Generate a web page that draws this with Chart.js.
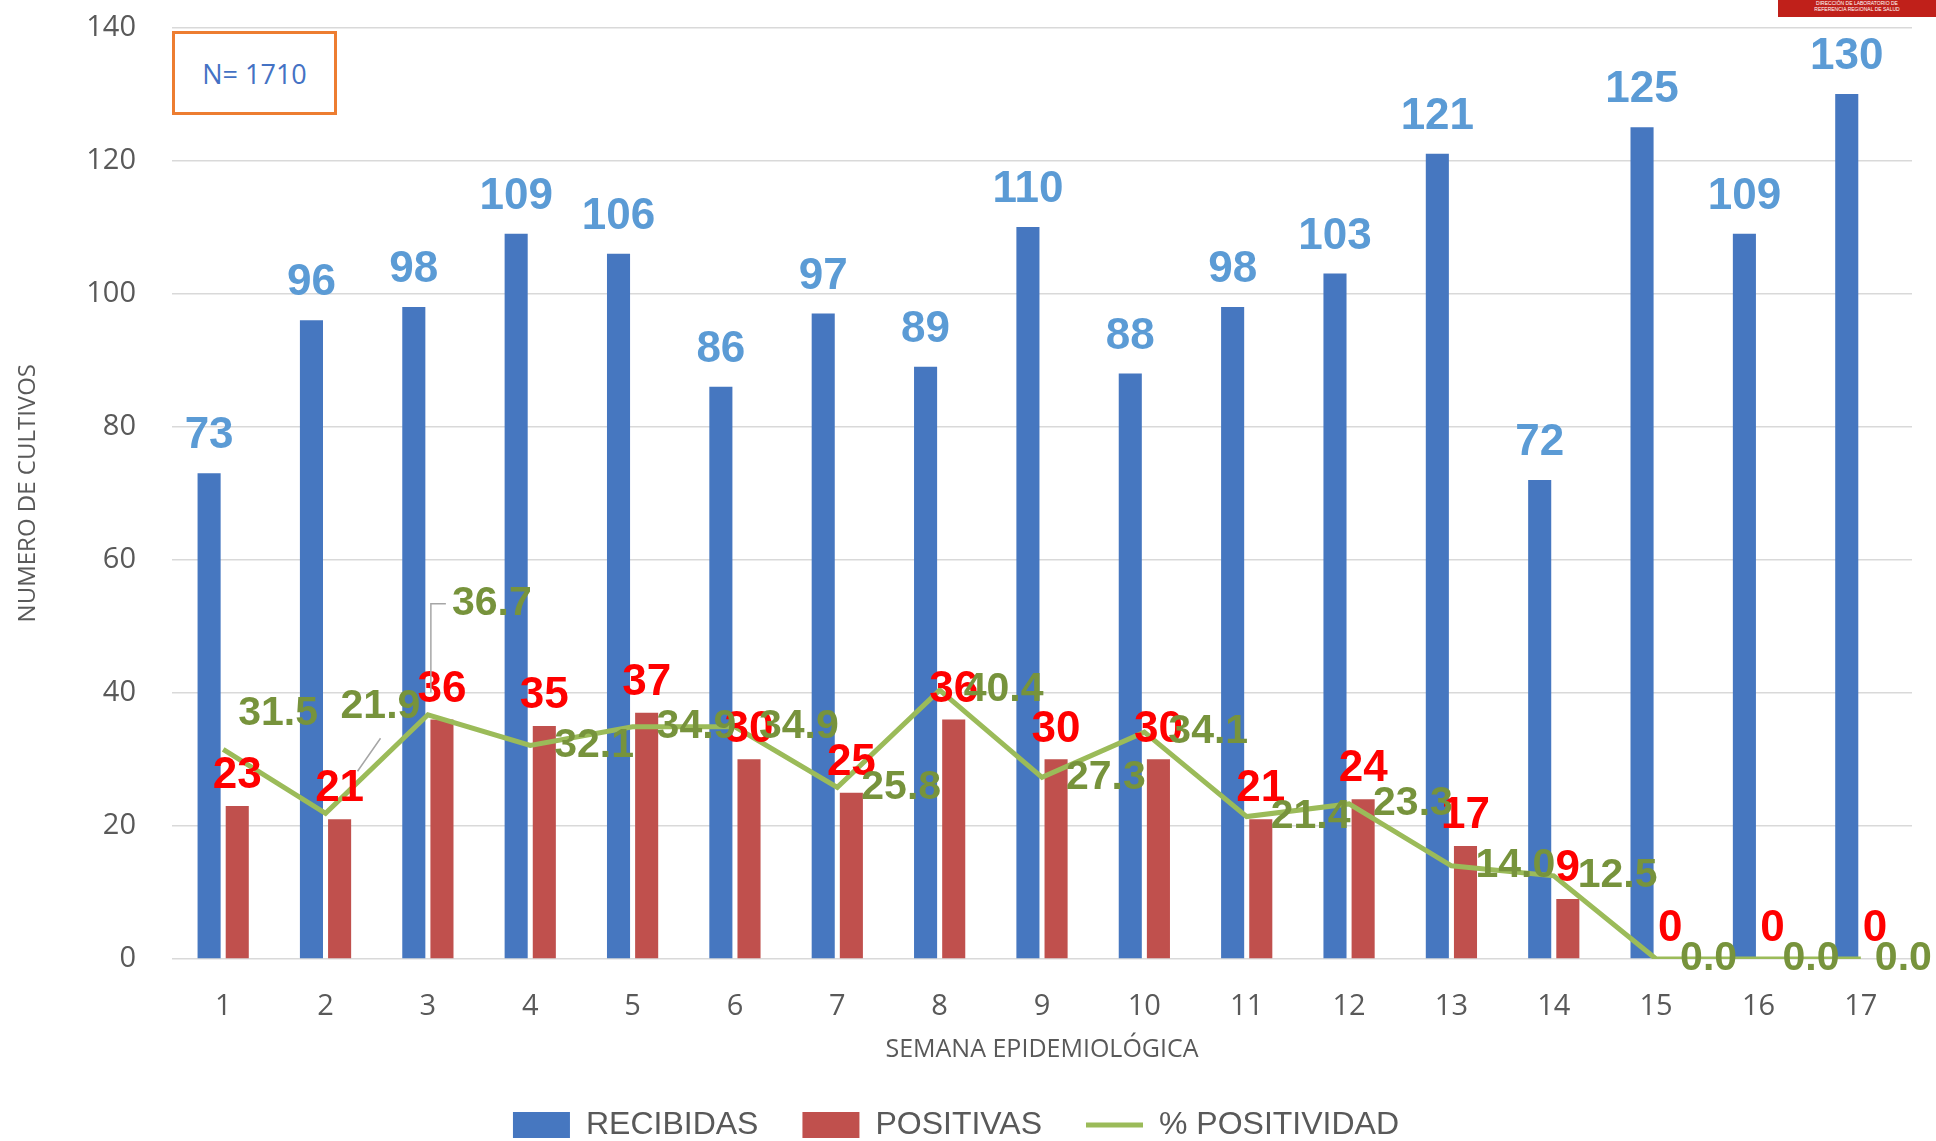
<!DOCTYPE html>
<html>
<head>
<meta charset="utf-8">
<title>Cultivos por semana epidemiológica</title>
<script src="https://cdn.jsdelivr.net/npm/chart.js@4/dist/chart.umd.min.js"></script>
<style>
  html, body { margin: 0; padding: 0; background: #fff; }
  #wrap { position: relative; width: 1936px; height: 1141px; }
  #nBox {
    position: absolute; left: 172px; top: 31px; width: 159px; height: 78px;
    border: 3px solid #ED7D31; display: flex; align-items: center; justify-content: center;
    font-family: "Open Sans", sans-serif; font-size: 27px; color: #4472C4; background: #fff;
  }
  #logo {
    position: absolute; left: 1778px; top: 0; width: 158px; height: 17px; background: #C0201A;
    color: #fff; font-family: "Liberation Sans", sans-serif; font-size: 5px; line-height: 6px;
    text-align: center; overflow: hidden;
  }
</style>
</head>
<body>
<div id="wrap">
  <canvas id="chart_cultivos" width="1936" height="1141"></canvas>
  <div id="nBox">N= 1710</div>
  <div id="logo">DIRECCIÓN DE LABORATORIO DE<br>REFERENCIA REGIONAL DE SALUD</div>
</div>
<script>
// datos
const semanas = ['1', '2', '3', '4', '5', '6', '7', '8', '9', '10', '11', '12', '13', '14', '15', '16', '17'];
const recibidas = [73, 96, 98, 109, 106, 86, 97, 89, 110, 88, 98, 103, 121, 72, 125, 109, 130];
const positivas = [23, 21, 36, 35, 37, 30, 25, 36, 30, 30, 21, 24, 17, 9, 0, 0, 0];
const positividad = [31.5, 21.9, 36.7, 32.1, 34.9, 34.9, 25.8, 40.4, 27.3, 34.1, 21.4, 23.3, 14.0, 12.5, 0.0, 0.0, 0.0];
const yTicks = [0, 20, 40, 60, 80, 100, 120, 140];

// etiquetas de % movidas a mano en el original (px)
const nudgePct = { 0: [-9, -36], 1: [-9, -107], 2: [0, -111], 16: [-10, 0] };

const BLUE = '#4677C0';
const RED = '#C0504D';
const GREEN = '#9BBB59';

// etiquetas de datos
const valueLabels = {
    id: 'valueLabels',
    afterDatasetsDraw(chart) {
        const ctx = chart.ctx;
        ctx.save();
        ctx.font = 'bold 44px "Liberation Sans", sans-serif';
        ctx.textAlign = 'center';
        ctx.textBaseline = 'middle';

        // recibidas
        ctx.fillStyle = '#5B9BD5';
        chart.getDatasetMeta(0).data.forEach((bar, i) => {
            ctx.fillText(recibidas[i], bar.x, bar.y - 37);
        });

        // positivas
        ctx.fillStyle = '#FF0000';
        chart.getDatasetMeta(1).data.forEach((bar, i) => {
            ctx.fillText(positivas[i], bar.x, bar.y - 30);
        });

        // % positividad (con lineas guia para las etiquetas movidas)
        const pts = chart.getDatasetMeta(2).data;
        ctx.strokeStyle = '#A6A6A6';
        ctx.lineWidth = 1.5;
        ctx.beginPath();
        ctx.moveTo(pts[1].x + 32, pts[1].y - 42);
        ctx.lineTo(pts[1].x + 55, pts[1].y - 75);
        ctx.moveTo(pts[2].x + 3, pts[2].y - 22);
        ctx.lineTo(pts[2].x + 3, pts[2].y - 111);
        ctx.lineTo(pts[2].x + 18, pts[2].y - 111);
        ctx.stroke();

        ctx.font = 'bold 41px "Liberation Sans", sans-serif';
        ctx.fillStyle = '#77933C';
        ctx.textAlign = 'left';
        pts.forEach((pt, i) => {
            const n = nudgePct[i] || [0, 0];
            ctx.fillText(positividad[i].toFixed(1), pt.x + 24 + n[0], pt.y + n[1]);
        });
        ctx.restore();
    }
};

var ctx = document.getElementById('chart_cultivos');
var dChart = new Chart(ctx, {
    type: 'bar',
    data: {
        labels: semanas,
        datasets: [
            {
                label: 'RECIBIDAS',
                data: recibidas,
                backgroundColor: BLUE,
                pointStyle: 'rect',
                order: 1
            },
            {
                label: 'POSITIVAS',
                data: positivas,
                backgroundColor: RED,
                pointStyle: 'rect',
                order: 1
            },
            {
                type: 'line',
                label: '% POSITIVIDAD',
                data: positividad,
                borderColor: GREEN,
                backgroundColor: GREEN,
                borderWidth: 5,
                pointRadius: 0,
                pointStyle: 'line',
                tension: 0,
                order: 0
            }
        ]
    },
    options: {
        responsive: false,
        animation: false,
        categoryPercentage: 0.55,
        barPercentage: 0.82,
        layout: { padding: { top: 0, right: 24, bottom: -10, left: 0 } },
        plugins: {
            tooltip: { enabled: false },
            legend: {
                position: 'bottom',
                labels: {
                    usePointStyle: true,
                    pointStyleWidth: 57,
                    boxHeight: 26,
                    padding: 44,
                    color: '#595959',
                    font: { family: '"Liberation Sans", sans-serif', size: 32 },
                    sort: (a, b) => a.datasetIndex - b.datasetIndex
                }
            }
        },
        scales: {
            x: {
                grid: { display: false },
                border: { display: false },
                afterFit: (scale) => { scale.height = 106; },
                ticks: {
                    color: '#595959',
                    padding: 22,
                    font: { family: '"Open Sans", sans-serif', size: 29 }
                },
                title: {
                    display: true,
                    text: 'SEMANA EPIDEMIOLÓGICA',
                    color: '#595959',
                    padding: { top: 4, bottom: 0 },
                    font: { family: '"Open Sans", sans-serif', size: 25 }
                }
            },
            y: {
                min: 0,
                max: 140,
                afterBuildTicks: (scale) => { scale.ticks = yTicks.map(v => ({ value: v })); },
                afterFit: (scale) => { scale.width = 172; },
                grid: {
                    color: '#D9D9D9',
                    lineWidth: 1.5,
                    drawTicks: true,
                    tickLength: 26,
                    tickColor: 'rgba(0,0,0,0)'
                },
                border: { display: false },
                ticks: {
                    color: '#595959',
                    padding: 10,
                    font: { family: '"Open Sans", sans-serif', size: 29 }
                },
                title: {
                    display: true,
                    text: 'NUMERO DE CULTIVOS',
                    color: '#595959',
                    padding: { top: 14, bottom: 0 },
                    font: { family: '"Open Sans", sans-serif', size: 24 }
                }
            }
        }
    },
    plugins: [valueLabels]
});
</script>
</body>
</html>
